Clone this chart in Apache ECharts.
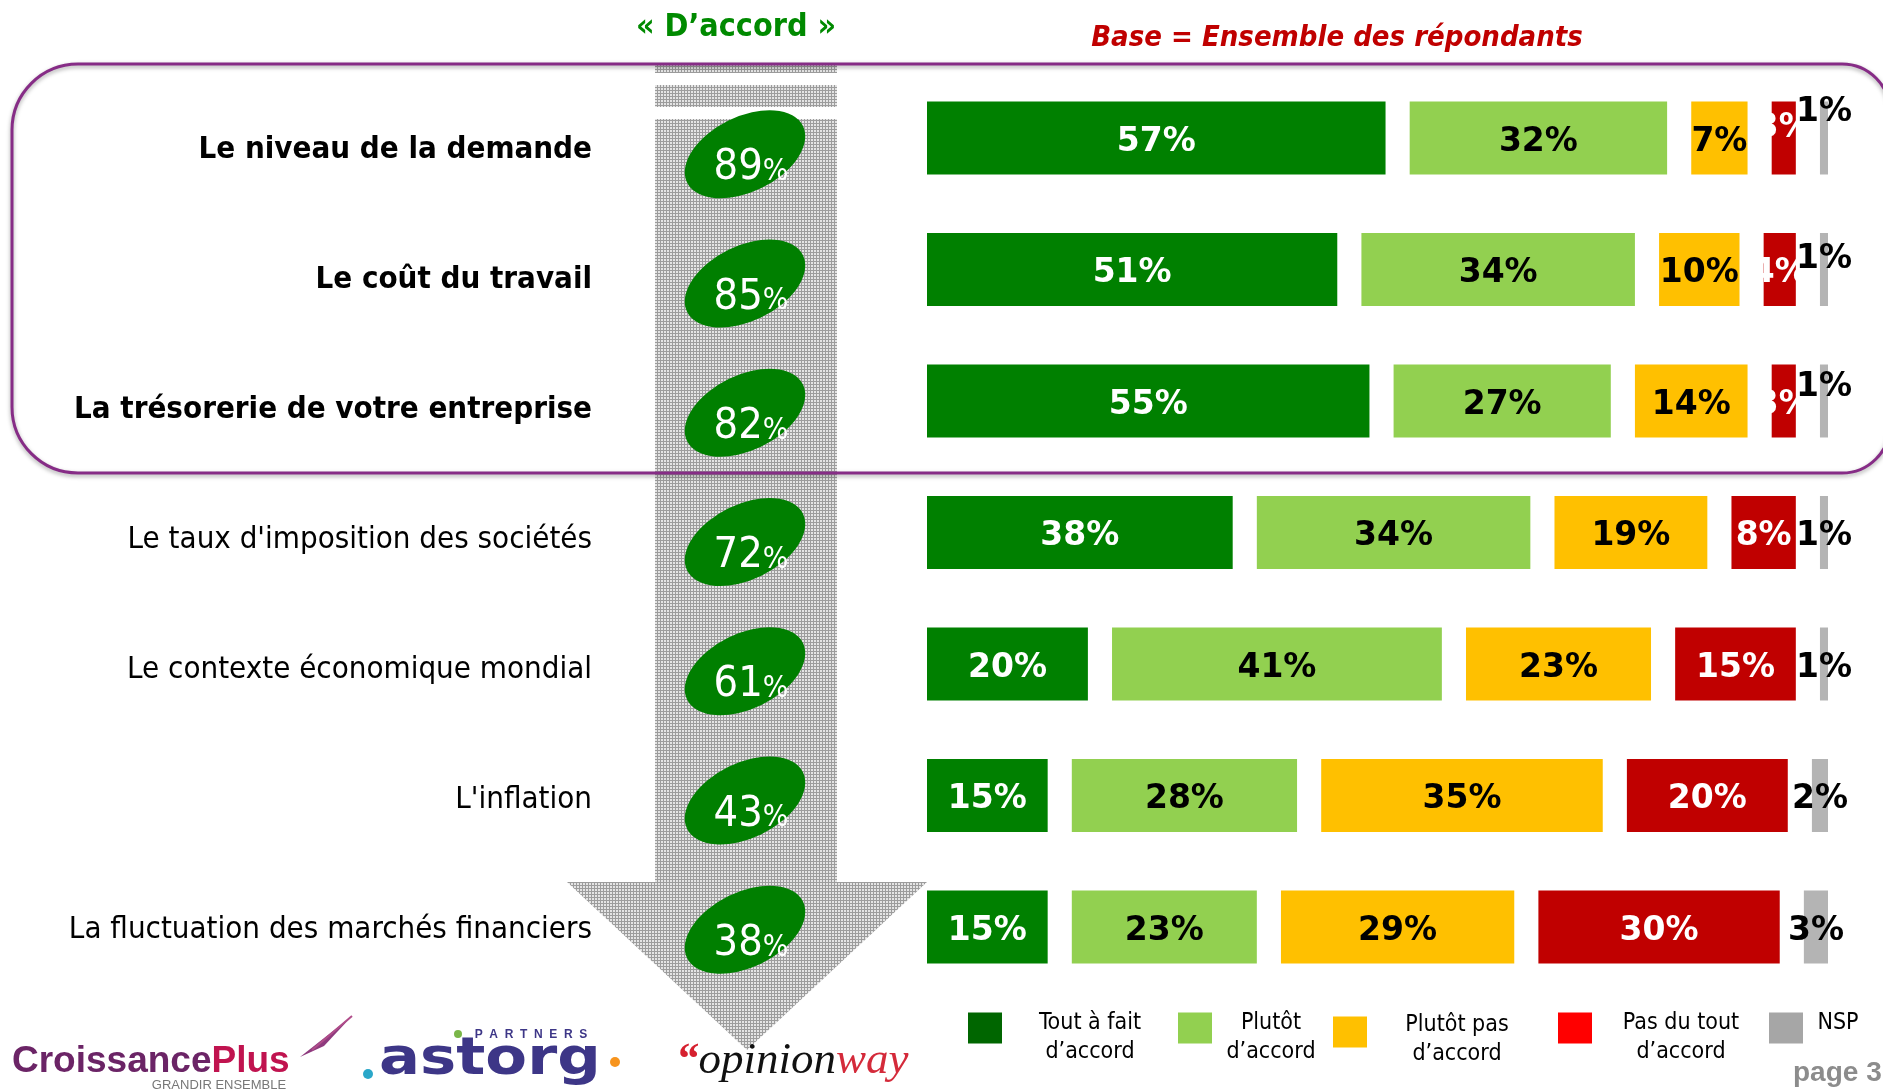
<!DOCTYPE html>
<html>
<head>
<meta charset="utf-8">
<script src="https://cdn.jsdelivr.net/npm/echarts@6/dist/echarts.min.js"></script>
<style>
html,body{margin:0;padding:0;background:#fff;}
#chart{width:1883px;height:1091px;}
</style>
</head>
<body>
<div id="chart"></div>
<script>
// ---------- DATA ----------
const categories = [
  'Le niveau de la demande',
  'Le coût du travail',
  'La trésorerie de votre entreprise',
  "Le taux d'imposition des sociétés",
  'Le contexte économique mondial',
  "L'inflation",
  'La fluctuation des marchés financiers'
];
const highlighted = [true, true, true, false, false, false, false];
const toutAFait = [57, 51, 55, 38, 20, 15, 15];
const plutot    = [32, 34, 27, 34, 41, 28, 23];
const plutotPas = [7, 10, 14, 19, 23, 35, 29];
const pasDuTout = [3, 4, 3, 8, 15, 20, 30];
const nsp       = [1, 1, 1, 1, 1, 2, 3];
const accord    = [89, 85, 82, 72, 61, 43, 38];
const accordColumn = ['« D’accord »'];
const seriesNames = ['Tout à fait d’accord', 'Plutôt d’accord', 'Plutôt pas d’accord', 'Pas du tout d’accord', 'NSP'];
const legendLines = [['Tout à fait', 'd’accord'], ['Plutôt', 'd’accord'], ['Plutôt pas', 'd’accord'], ['Pas du tout', 'd’accord'], ['NSP']];

// ---------- STYLE ----------
const GAP = 3; // white spacing between segments, in axis units
const barColors   = ['#008000', '#92D050', '#FFC000', '#C00000', '#B4B4B4'];
const labelColors = ['#ffffff', '#000000', '#000000', '#ffffff', '#000000'];
const legendColors = ['#006600', '#92D050', '#FFC000', '#FF0000', '#A6A6A6'];
const legendIconLeft = [968, 1178, 1333, 1558, 1769];
const legendIconTop  = [1012, 1012, 1014, 1012, 1012];
const legendTextCenter = [1090, 1271, 1457, 1681, 1838];
const nspLabelShift = [-30, -14, -18, 0, 0, 0, 0];
const redLabelShift = [-14, 0, 0, 0, 0, 0, 0];
const LABEL_DY = 4;
const COND = '"DejaVu Sans Condensed", "DejaVu Sans", sans-serif';

// hatch pattern for the grey arrow
const pc = document.createElement('canvas');
pc.width = 3; pc.height = 3;
const pg = pc.getContext('2d');
pg.fillStyle = '#e4e4e4'; pg.fillRect(0, 0, 3, 3);
pg.fillStyle = '#9c9c9c'; pg.fillRect(0, 0, 1, 3); pg.fillRect(0, 0, 3, 1);
const hatch = { image: pc, repeat: 'repeat' };

const segs = [toutAFait, plutot, plutotPas, pasDuTout, nsp];
const series = [];
segs.forEach((arr, k) => {
  if (k > 0) {
    series.push({
      type: 'bar', stack: 'total', name: '_gap' + k, silent: true,
      xAxisIndex: 0, yAxisIndex: 0, barWidth: 73,
      data: categories.map(() => GAP),
      itemStyle: { color: 'rgba(0,0,0,0)' }, label: { show: false }
    });
  }
  series.push({
    type: 'bar', stack: 'total', name: seriesNames[k],
    xAxisIndex: 0, yAxisIndex: 0, barWidth: 73, z: 2 + k * 0.1,
    data: arr.map((v, i) => {
      const shift = k === 4 ? nspLabelShift[i] : (k === 3 ? redLabelShift[i] : 0);
      return { value: v, label: { offset: [0, shift + LABEL_DY] } };
    }),
    itemStyle: { color: barColors[k] },
    label: {
      show: true, position: 'inside', formatter: '{c}%',
      color: labelColors[k], fontFamily: 'DejaVu Sans', fontWeight: 'bold', fontSize: 33
    }
  });
});

series.push({
  type: 'scatter', xAxisIndex: 1, yAxisIndex: 1, z: 5,
  data: accord.map((v, i) => [accordColumn[0], categories[i], v]),
  symbol: 'path://M0 50A50 50 0 1 1 100 50A50 50 0 1 1 0 50Z',
  symbolSize: [129, 75], symbolRotate: 26,
  itemStyle: { color: '#007f00', opacity: 1 },
  label: {
    show: true, position: 'inside', offset: [6, 14],
    formatter: p => '{n|' + p.value[2] + '}{p|%}',
    rich: {
      n: { fontFamily: COND, fontSize: 43, lineHeight: 44, color: '#fff' },
      p: { fontFamily: COND, fontSize: 30, lineHeight: 36, padding: [8, 0, 0, 0], color: '#fff' }
    }
  }
});

const legends = seriesNames.map((name, k) => ({
  data: [{ name: name, itemStyle: { color: legendColors[k] } }],
  left: legendIconLeft[k], top: legendIconTop[k], padding: 0,
  itemWidth: 34, itemHeight: 31, icon: 'rect', selectedMode: false,
  formatter: () => legendLines[k].map(s => '{c|' + s + '}').join('\n'),
  textStyle: {
    padding: legendLines[k].length > 1 ? [20 - (legendIconTop[k] - 1012) * 2, 0, 0, 0] : [0, 0, 9, 0],
    rich: {
      c: {
        width: 2 * (legendTextCenter[k] - legendIconLeft[k] - 39), align: 'center',
        fontFamily: COND, fontSize: 23, lineHeight: 29, color: '#000'
      }
    }
  }
}));

const graphic = [
  // grey hatched arrow
  { type: 'rect', z: 0, shape: { x: 655, y: 63, width: 182, height: 10 }, style: { fill: hatch } },
  { type: 'rect', z: 0, shape: { x: 655, y: 85, width: 182, height: 22 }, style: { fill: hatch } },
  { type: 'rect', z: 0, shape: { x: 655, y: 119, width: 182, height: 764 }, style: { fill: hatch } },
  { type: 'polygon', z: 0, shape: { points: [[567, 882], [927, 882], [747, 1050]] }, style: { fill: hatch } },
  // rounded purple frame
  { type: 'rect', z: 1, shape: { x: 12, y: 64, width: 1878, height: 409, r: [66, 48, 48, 66] },
    style: { fill: 'none', stroke: '#862c86', lineWidth: 3, shadowBlur: 4, shadowColor: 'rgba(0,0,0,0.35)', shadowOffsetY: 2 } },
  // titles
  { type: 'text', x: 736, y: 28, style: { text: '« D’accord »', fontFamily: COND, fontWeight: 'bold', fontSize: 32, fill: '#008a00', align: 'center', verticalAlign: 'middle' } },
  { type: 'text', x: 1337, y: 38, style: { text: 'Base = Ensemble des répondants', fontFamily: COND, fontWeight: 'bold', fontStyle: 'italic', fontSize: 29, fill: '#C00000', align: 'center', verticalAlign: 'middle' } },
  // logos
  { type: 'text', x: 12, y: 1062, style: { text: '{a|Croissance}{b|Plus}', verticalAlign: 'middle',
      rich: { a: { fontFamily: 'Liberation Sans', fontWeight: 'bold', fontSize: 37, fill: '#6b2466' },
              b: { fontFamily: 'Liberation Sans', fontWeight: 'bold', fontSize: 37, fill: '#c0134f' } } } },
  { type: 'text', x: 219, y: 1085, style: { text: 'GRANDIR ENSEMBLE', fontFamily: 'Liberation Sans', fontSize: 13, fill: '#777', align: 'center', verticalAlign: 'middle' } },
  { type: 'polygon', shape: { points: [[300, 1057], [352, 1016], [324, 1046]] }, style: { fill: '#8e3a7e' } },
  { type: 'polyline', shape: { points: [[312, 1050], [352, 1016]] }, style: { stroke: '#b04d8a', lineWidth: 2, fill: 'none' } },
  { type: 'circle', shape: { cx: 368, cy: 1074, r: 5 }, style: { fill: '#2aa7c9' } },
  { type: 'text', x: 379, y: 1060, scaleX: 1.17, style: { text: 'astorg', fontFamily: 'DejaVu Sans', fontWeight: 'bold', fontSize: 52, fill: '#3d3687', verticalAlign: 'middle' } },
  { type: 'circle', shape: { cx: 615, cy: 1062, r: 5 }, style: { fill: '#f7941d' } },
  { type: 'circle', shape: { cx: 458, cy: 1034, r: 4 }, style: { fill: '#7ab648' } },
  { type: 'text', x: 531, y: 1035, style: { text: 'P  A  R  T  N  E  R  S', fontFamily: 'Liberation Sans', fontWeight: 'bold', fontSize: 12, fill: '#3d3687', align: 'center', verticalAlign: 'middle' } },
  { type: 'text', x: 676, y: 1061, style: { text: '{q|“}{o|opinion}{w|way}', verticalAlign: 'middle',
      rich: { q: { fontFamily: 'Liberation Serif', fontStyle: 'italic', fontWeight: 'bold', fontSize: 45, fill: '#d6202f' },
              o: { fontFamily: 'Liberation Serif', fontStyle: 'italic', fontSize: 45, fill: '#111' },
              w: { fontFamily: 'Liberation Serif', fontStyle: 'italic', fontSize: 45, fill: '#d42a3a' } } } },
  { type: 'text', x: 1793, y: 1073, style: { text: 'page 3', fontFamily: 'Liberation Sans', fontWeight: 'bold', fontSize: 28, fill: '#8c8c8c', verticalAlign: 'middle' } }
];

const option = {
  animation: false,
  backgroundColor: '#ffffff',
  grid: [
    { left: 927, width: 901, top: 72.25, height: 920.5 },
    { left: 700, width: 90, top: 89.7, height: 904.7 },
    { left: 592, width: 10, top: 84.5, height: 910.6 }
  ],
  xAxis: [
    { type: 'value', gridIndex: 0, min: 0, max: 112, show: false },
    { type: 'category', gridIndex: 1, data: accordColumn, show: false },
    { type: 'value', gridIndex: 2, show: false }
  ],
  yAxis: [
    { type: 'category', gridIndex: 0, data: categories, inverse: true, show: false },
    { type: 'category', gridIndex: 1, data: categories, inverse: true, show: false },
    { type: 'category', gridIndex: 2, data: categories, inverse: true,
      axisLine: { show: false }, axisTick: { show: false }, splitLine: { show: false },
      axisLabel: {
        margin: 0,
        formatter: (v, i) => (highlighted[i] ? '{b|' : '{r|') + v + '}',
        rich: {
          b: { fontFamily: COND, fontWeight: 'bold', fontSize: 31, color: '#000' },
          r: { fontFamily: COND, fontWeight: 'normal', fontSize: 31, color: '#000' }
        }
      } }
  ],
  legend: legends,
  graphic: graphic,
  series: series
};

const chart = echarts.init(document.getElementById('chart'), null, { renderer: 'canvas', width: 1883, height: 1091 });
chart.setOption(option);
</script>
</body>
</html>
